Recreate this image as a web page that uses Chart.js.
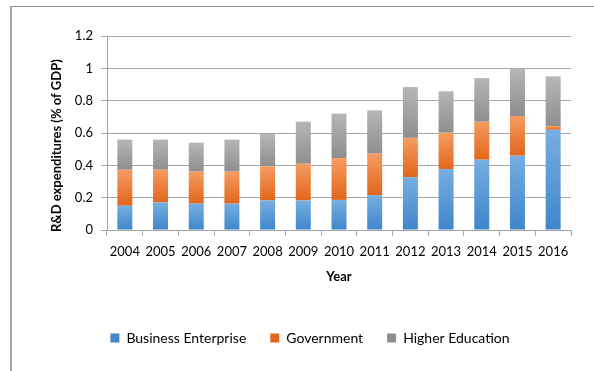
<!DOCTYPE html>
<html><head><meta charset="utf-8">
<script src="https://cdn.jsdelivr.net/npm/chart.js@4.4.1/dist/chart.umd.min.js"></script>
<style>
html,body{margin:0;padding:0;background:#fff;}
#wrap{position:relative;width:594px;height:371px;overflow:hidden;}
#frame{position:absolute;left:10px;top:6px;width:600px;height:400px;border-left:2px solid #a6a6a6;border-top:1px solid #8c8c8c;}
canvas{position:absolute;left:0;top:0;}
</style></head>
<body><div id="wrap"><div id="frame"></div><canvas id="c" width="594" height="371"></canvas></div>
<script>
const years = ['2004','2005','2006','2007','2008','2009','2010','2011','2012','2013','2014','2015','2016'];
const business   = [0.150,0.171,0.163,0.163,0.183,0.183,0.186,0.216,0.327,0.377,0.435,0.460,0.620];
const government = [0.223,0.202,0.198,0.198,0.211,0.227,0.259,0.256,0.243,0.225,0.235,0.245,0.023];
const higher     = [0.186,0.186,0.179,0.198,0.200,0.260,0.275,0.268,0.314,0.256,0.270,0.295,0.307];
const yTicks = [0,0.2,0.4,0.6,0.8,1,1.2];
const yTickLabels = ['0','0.2','0.4','0.6','0.8','1','1.2'];

const series = [business, government, higher];
const solid = ['#5b9bd5','#ed7d31','#a5a5a5'];
const gradTop = ['#76aee0','#f59c62','#b6b6b6'];
const gradBot = ['#3f86cb','#e2661b','#8e8e8e'];

function fill(k){
  return function(c){
    if (c.type !== 'data') return solid[k];
    const chart = c.chart, y = chart.scales.y;
    if (!y) return solid[k];
    const i = c.dataIndex;
    let base = 0;
    for (let j = 0; j < k; j++) base += series[j][i];
    const top = base + series[k][i];
    const y0 = y.getPixelForValue(top), y1 = y.getPixelForValue(base);
    if (!isFinite(y0) || !isFinite(y1) || y0 === y1) return solid[k];
    const g = chart.ctx.createLinearGradient(0, y0, 0, y1);
    g.addColorStop(0, gradTop[k]);
    g.addColorStop(1, gradBot[k]);
    return g;
  };
}

const names = ['Business Enterprise','Government','Higher Education'];
const gridCol = '#a6a6a6';

new Chart(document.getElementById('c').getContext('2d'), {
  type: 'bar',
  data: {
    labels: years,
    datasets: series.map((d, k) => ({
      label: names[k],
      data: d,
      backgroundColor: fill(k),
      borderWidth: 0,
      categoryPercentage: 1,
      barPercentage: 0.42
    }))
  },
  options: {
    responsive: false,
    animation: false,
    layout: { padding: { left: 49, right: 23, top: 36, bottom: 16 } },
    plugins: {
      legend: {
        position: 'bottom',
        labels: { boxWidth: 9, boxHeight: 9, padding: 24, color: '#000',
                  font: { family: 'Lato', size: 14 } }
      },
      tooltip: { enabled: false }
    },
    scales: {
      x: {
        stacked: true,
        grid: { drawOnChartArea: false, tickLength: 6, color: gridCol },
        border: { color: gridCol },
        ticks: { padding: 8, color: '#000', font: { family: 'Lato', size: 13 }, maxRotation: 0, autoSkip: false },
        title: { display: true, text: 'Year', color: '#000',
                 font: { family: 'Lato', size: 13, weight: 'bold' }, padding: { top: 0, bottom: 22 } },
        afterFit: s => { s.height = 77; }
      },
      y: {
        stacked: true,
        min: 0, max: 1.2,
        afterBuildTicks: s => { s.ticks = yTicks.map(v => ({ value: v })); },
        grid: { tickLength: 6, color: gridCol },
        border: { color: gridCol },
        ticks: { padding: 8, color: '#000', font: { family: 'Lato', size: 13 },
                 callback: (v, i) => yTickLabels[i] },
        title: { display: true, text: 'R&D expenditures (% of GDP)\u00A0\u00A0\u00A0\u00A0\u00A0\u00A0\u00A0\u00A0', color: '#000',
                 font: { family: 'Lato', size: 13, weight: 'bold' }, padding: 0 },
        afterFit: s => { s.width = 58; }
      }
    }
  }
});
</script>
</body></html>
